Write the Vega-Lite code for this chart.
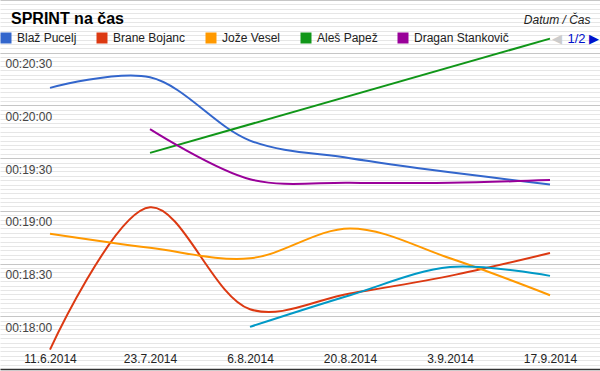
{
  "$schema": "https://vega.github.io/schema/vega-lite/v6.json",
  "width": 600,
  "height": 369,
  "autosize": {"type": "none"},
  "padding": {"top": 0, "left": 0, "right": 0, "bottom": 2},
  "background": "#ffffff",
  "config": {"font": "Liberation Sans", "view": {"stroke": null}},
  "title": {
    "text": "SPRINT na čas",
    "anchor": "start",
    "frame": "group",
    "orient": "top",
    "offset": -40,
    "baseline": "alphabetic",
    "dx": 11,
    "fontSize": 16,
    "fontWeight": "bold",
    "color": "#000000"
  },
  "data": {
    "values": [
      {"datum": "11.6.2014", "tekmovalec": "Blaž Pucelj", "sekunde": 1210},
      {"datum": "23.7.2014", "tekmovalec": "Blaž Pucelj", "sekunde": 1216},
      {"datum": "6.8.2014", "tekmovalec": "Blaž Pucelj", "sekunde": 1180},
      {"datum": "20.8.2014", "tekmovalec": "Blaž Pucelj", "sekunde": 1170},
      {"datum": "3.9.2014", "tekmovalec": "Blaž Pucelj", "sekunde": 1162},
      {"datum": "17.9.2014", "tekmovalec": "Blaž Pucelj", "sekunde": 1155},
      {"datum": "11.6.2014", "tekmovalec": "Brane Bojanc", "sekunde": 1061},
      {"datum": "23.7.2014", "tekmovalec": "Brane Bojanc", "sekunde": 1142},
      {"datum": "6.8.2014", "tekmovalec": "Brane Bojanc", "sekunde": 1084},
      {"datum": "20.8.2014", "tekmovalec": "Brane Bojanc", "sekunde": 1093},
      {"datum": "3.9.2014", "tekmovalec": "Brane Bojanc", "sekunde": 1103},
      {"datum": "17.9.2014", "tekmovalec": "Brane Bojanc", "sekunde": 1116},
      {"datum": "11.6.2014", "tekmovalec": "Jože Vesel", "sekunde": 1127},
      {"datum": "23.7.2014", "tekmovalec": "Jože Vesel", "sekunde": 1119},
      {"datum": "6.8.2014", "tekmovalec": "Jože Vesel", "sekunde": 1113},
      {"datum": "20.8.2014", "tekmovalec": "Jože Vesel", "sekunde": 1130},
      {"datum": "3.9.2014", "tekmovalec": "Jože Vesel", "sekunde": 1113},
      {"datum": "17.9.2014", "tekmovalec": "Jože Vesel", "sekunde": 1092},
      {"datum": "23.7.2014", "tekmovalec": "Aleš Papež", "sekunde": 1173},
      {"datum": "17.9.2014", "tekmovalec": "Aleš Papež", "sekunde": 1238},
      {"datum": "23.7.2014", "tekmovalec": "Dragan Stankovič", "sekunde": 1186.5},
      {"datum": "6.8.2014", "tekmovalec": "Dragan Stankovič", "sekunde": 1158},
      {"datum": "20.8.2014", "tekmovalec": "Dragan Stankovič", "sekunde": 1156},
      {"datum": "3.9.2014", "tekmovalec": "Dragan Stankovič", "sekunde": 1156},
      {"datum": "17.9.2014", "tekmovalec": "Dragan Stankovič", "sekunde": 1157.5},
      {"datum": "6.8.2014", "tekmovalec": "Tekmovalec 6", "sekunde": 1074},
      {"datum": "20.8.2014", "tekmovalec": "Tekmovalec 6", "sekunde": 1092},
      {"datum": "3.9.2014", "tekmovalec": "Tekmovalec 6", "sekunde": 1108},
      {"datum": "17.9.2014", "tekmovalec": "Tekmovalec 6", "sekunde": 1103}
    ]
  },
  "encoding": {
    "x": {
      "field": "datum",
      "type": "ordinal",
      "sort": ["11.6.2014", "23.7.2014", "6.8.2014", "20.8.2014", "3.9.2014", "17.9.2014"],
      "scale": {"type": "point", "padding": 0.5},
      "axis": {
        "orient": "bottom",
        "grid": false,
        "ticks": false,
        "domain": true,
        "domainColor": "#333333",
        "domainWidth": 1.5,
        "labelAngle": 0,
        "labelPadding": -11,
        "labelBaseline": "middle",
        "labelFontSize": 12,
        "labelColor": "#222222",
        "title": "Datum / Čas",
        "titleX": 590,
        "titleY": -346,
        "titleAlign": "right",
        "titleBaseline": "alphabetic",
        "titleFontStyle": "italic",
        "titleFontWeight": "normal",
        "titleFontSize": 12,
        "titleColor": "#222222"
      }
    }
  },
  "layer": [
    {
      "mark": {"type": "point", "opacity": 0, "size": 0},
      "encoding": {
        "y": {
          "field": "sekunde",
          "type": "quantitative",
          "scale": {"domain": [1050, 1260], "nice": false, "zero": false},
          "axis": {
            "orient": "left",
            "values": [1050, 1052.5, 1055, 1057.5, 1060, 1062.5, 1065, 1067.5, 1070, 1072.5, 1075, 1077.5, 1080, 1082.5, 1085, 1087.5, 1090, 1092.5, 1095, 1097.5, 1100, 1102.5, 1105, 1107.5, 1110, 1112.5, 1115, 1117.5, 1120, 1122.5, 1125, 1127.5, 1130, 1132.5, 1135, 1137.5, 1140, 1142.5, 1145, 1147.5, 1150, 1152.5, 1155, 1157.5, 1160, 1162.5, 1165, 1167.5, 1170, 1172.5, 1175, 1177.5, 1180, 1182.5, 1185, 1187.5, 1190, 1192.5, 1195, 1197.5, 1200, 1202.5, 1205, 1207.5, 1210, 1212.5, 1215, 1217.5, 1220, 1222.5, 1225, 1227.5, 1230, 1232.5, 1235, 1237.5, 1240, 1242.5, 1245, 1247.5, 1250, 1252.5, 1255, 1257.5],
            "grid": true,
            "gridColor": "#e6e6e6",
            "gridWidth": 1,
            "labels": false,
            "ticks": false,
            "domain": false,
            "title": "◀",
            "titleX": 556,
            "titleY": 38,
            "titleAngle": 0,
            "titleAlign": "center",
            "titleBaseline": "middle",
            "titleColor": "#cccccc",
            "titleFontSize": 13,
            "titleFontWeight": "normal"
          }
        }
      }
    },
    {
      "mark": {"type": "line", "interpolate": "catmull-rom", "strokeWidth": 2},
      "encoding": {
        "y": {
          "field": "sekunde",
          "type": "quantitative",
          "scale": {"domain": [1050, 1260], "nice": false, "zero": false},
          "axis": {
            "orient": "left",
            "values": [1080, 1110, 1140, 1170, 1200, 1230, 1260],
            "grid": true,
            "gridColor": "#c6c6c6",
            "gridWidth": 1,
            "ticks": false,
            "domain": false,
            "labelAlign": "left",
            "labelPadding": -5,
            "labelBaseline": "middle",
            "labelOffset": 11,
            "labelFontSize": 12,
            "labelColor": "#444444",
            "labelExpr": "datum.value >= 1260 ? '' : '00:' + floor(datum.value / 60) + ':' + (datum.value % 60 == 0 ? '00' : '' + (datum.value % 60))",
            "title": "1/2 ▶",
            "titleX": 567,
            "titleY": 38,
            "titleAngle": 0,
            "titleAlign": "left",
            "titleBaseline": "middle",
            "titleColor": "#0011cc",
            "titleFontSize": 13,
            "titleFontWeight": "normal"
          }
        },
        "color": {
          "field": "tekmovalec",
          "type": "nominal",
          "scale": {
            "domain": ["Blaž Pucelj", "Brane Bojanc", "Jože Vesel", "Aleš Papež", "Dragan Stankovič", "Tekmovalec 6"],
            "range": ["#3366cc", "#dc3912", "#ff9900", "#109618", "#990099", "#0099c6"]
          },
          "legend": {
            "orient": "none",
            "legendX": 0,
            "legendY": 32,
            "direction": "horizontal",
            "columns": 5,
            "title": null,
            "padding": 0,
            "values": ["Blaž Pucelj", "Brane Bojanc", "Jože Vesel", "Aleš Papež", "Dragan Stankovič"],
            "symbolType": "square",
            "symbolSize": 121,
            "symbolStrokeWidth": 0,
            "labelOffset": 5,
            "columnPadding": 19,
            "labelFontSize": 12,
            "labelColor": "#222222",
            "encode": {
              "symbols": {
                "update": {
                  "fill": {"scale": "color", "field": "value"},
                  "stroke": {"value": "transparent"},
                  "opacity": {"value": 1}
                }
              }
            }
          }
        }
      }
    }
  ],
  "resolve": {"axis": {"y": "independent"}}
}
